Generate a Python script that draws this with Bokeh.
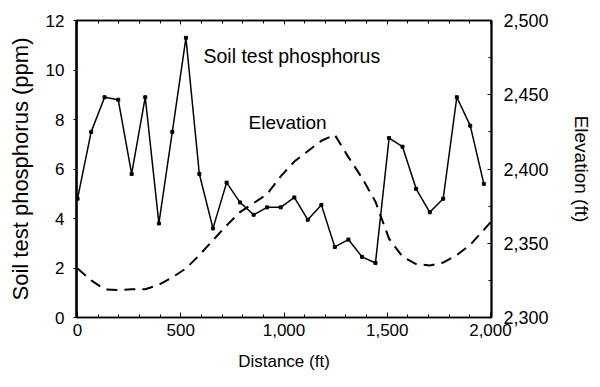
from bokeh.plotting import figure
from bokeh.models import (Range1d, LinearAxis, SingleIntervalTicker, NumeralTickFormatter,
                          Label, ColumnDataSource, CustomLabelingPolicy)
from bokeh.embed import file_html
from bokeh.resources import INLINE

# ---- data ----
distance_ft = [0, 66, 131, 197, 262, 328, 394, 459, 525, 590, 656, 722, 787, 853, 918,
               984, 1050, 1115, 1181, 1246, 1312, 1378, 1443, 1509, 1574, 1640, 1706,
               1771, 1837, 1902, 1968]
phosphorus_ppm = [4.8, 7.5, 8.9, 8.8, 5.8, 8.9, 3.8, 7.5, 11.3, 5.8, 3.6, 5.45, 4.65, 4.15,
                  4.45, 4.45, 4.85, 3.95, 4.55, 2.85, 3.15, 2.45, 2.2, 7.25, 6.9, 5.2,
                  4.25, 4.8, 8.9, 7.75, 5.4]
elev_distance_ft = [0, 66, 131, 197, 262, 328, 394, 459, 525, 590, 656, 722, 787, 853, 918,
                    984, 1050, 1115, 1181, 1246, 1312, 1378, 1443, 1509, 1574, 1640, 1706,
                    1771, 1837, 1902, 1968, 2000]
elevation_ft = [2333, 2325, 2319, 2318.5, 2319, 2319, 2322, 2327, 2333, 2342, 2352, 2362,
                2371, 2377, 2383, 2395, 2405, 2412, 2419, 2423, 2408, 2394, 2378, 2353,
                2341, 2336, 2335, 2337, 2342, 2349, 2359, 2364]

x_label = "Distance (ft)"
y_label = "Soil test phosphorus (ppm)"
y2_label = "Elevation (ft)"
phos_name = "Soil test phosphorus"
elev_name = "Elevation"

FONT = "Liberation Sans"

p = figure(frame_width=415, frame_height=297,
           min_border_left=76, min_border_right=101, min_border_top=20, min_border_bottom=62,
           x_range=Range1d(-5, 2005), y_range=Range1d(0, 12),
           output_backend="svg", toolbar_location=None, tools="",
           background_fill_color="white", border_fill_color="white")
p.xgrid.visible = False
p.ygrid.visible = False
p.outline_line_color = "black"
p.outline_line_width = 1.5
p.outline_line_alpha = 1.0

p.extra_y_ranges = {"elev": Range1d(2300, 2500)}

# curves
src_p = ColumnDataSource(dict(x=distance_ft, y=phosphorus_ppm))
src_e = ColumnDataSource(dict(x=elev_distance_ft, y=elevation_ft))
p.line("x", "y", source=src_e, y_range_name="elev", line_color="black",
       line_width=2, line_dash="11 7")
p.line("x", "y", source=src_p, line_color="black", line_width=1.5)
p.scatter("x", "y", source=src_p, marker="square", size=3, color="black")

# bottom axis
xa = p.xaxis[0]
xa.ticker = SingleIntervalTicker(interval=500, num_minor_ticks=5)
xa.formatter = NumeralTickFormatter(format="0,0")
xa.axis_label = x_label
xa.axis_label_text_font = FONT
xa.axis_label_text_font_size = "17px"
xa.axis_label_text_font_style = "normal"
xa.axis_label_standoff = 13
xa.major_label_text_font = FONT
xa.major_label_text_font_size = "17px"
xa.major_label_standoff = 6
xa.major_tick_in = 5
xa.major_tick_out = 0
xa.minor_tick_in = 3
xa.minor_tick_out = 0
xa.axis_line_width = 1.5
xa.major_label_text_color = "black"
xa.axis_label_text_color = "black"

# left axis
ya = p.yaxis[0]
ya.ticker = SingleIntervalTicker(interval=2, num_minor_ticks=0)
ya.axis_label = y_label
ya.axis_label_text_font = FONT
ya.axis_label_text_font_size = "22px"
ya.axis_label_text_font_style = "normal"
ya.axis_label_standoff = 10
ya.major_label_text_font = FONT
ya.major_label_text_font_size = "17px"
ya.major_label_standoff = 9
ya.major_tick_in = 0
ya.major_tick_out = 3
ya.minor_tick_line_color = None
ya.axis_line_width = 2.5
ya.major_label_text_color = "black"
ya.axis_label_text_color = "black"

# right axis
ra = LinearAxis(y_range_name="elev",
                ticker=SingleIntervalTicker(interval=50, num_minor_ticks=2),
                formatter=NumeralTickFormatter(format="0,0"))
ra.axis_label = y2_label
ra.axis_label_text_font = FONT
ra.axis_label_text_font_size = "19px"
ra.axis_label_text_font_style = "normal"
ra.axis_label_standoff = 19
ra.major_label_text_font = FONT
ra.major_label_text_font_size = "18px"
ra.major_label_standoff = 12
ra.major_tick_in = 4
ra.major_tick_out = 0
ra.minor_tick_in = 3
ra.minor_tick_out = 0
ra.axis_line_width = 2
ra.major_label_text_color = "black"
ra.axis_label_text_color = "black"
p.add_layout(ra, "right")

# top axis: ticks only, no labels
ta = LinearAxis(ticker=SingleIntervalTicker(interval=500, num_minor_ticks=5))
ta.major_label_policy = CustomLabelingPolicy(code="""
    for (const i of Array.from(indices)) { indices.unset(i) }
    return indices
""")
ta.major_label_standoff = 0
ta.major_tick_in = 4
ta.major_tick_out = 0
ta.minor_tick_in = 3
ta.minor_tick_out = 0
ta.axis_line_width = 1.5
p.add_layout(ta, "above")

# annotations
p.add_layout(Label(x=610, y=10.56, text=phos_name, text_font=FONT,
                   text_font_size="19.5px", text_color="black",
                   text_baseline="middle", text_align="left"))
p.add_layout(Label(x=828, y=7.86, text=elev_name, text_font=FONT,
                   text_font_size="19px", text_color="black",
                   text_baseline="middle", text_align="left"))

open("out.html", "w").write(file_html(p, INLINE))
